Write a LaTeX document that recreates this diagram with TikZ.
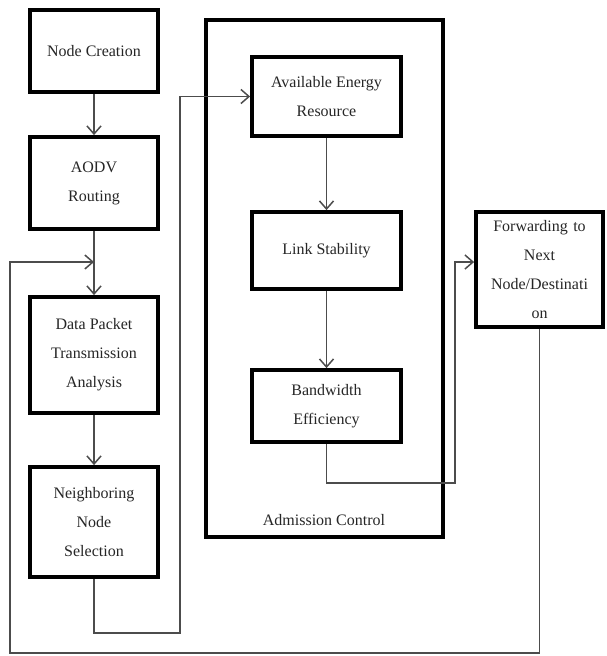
\documentclass[tikz,border=0pt]{standalone}
\usepackage{fontspec}
\setmainfont{Liberation Serif}
\usetikzlibrary{arrows.meta}
\begin{document}
\begin{tikzpicture}[x=1pt,y=1pt,
  box/.style={draw=black,line width=3.8pt,fill=white,align=center,inner sep=2pt,
    text=black!85,font=\fontsize{16}{29}\selectfont},
  conn/.style={draw=black!70,line width=1.8pt},
  arr/.style={conn,-{Straight Barb[length=8pt,width=14pt,line width=1.5pt]}},
  frame/.style={draw=black,line width=3.4pt},
  lbl/.style={text=black!85,font=\fontsize{16}{29}\selectfont}]
\useasboundingbox (0,0) rectangle (606,-656);
\fill[white] (0,0) rectangle (606,-656);
% admission control frame
\draw[frame] (206,-20) rectangle (443,-537);
\node[lbl] (adm) at (324,-520) {Admission Control};
% left column
\node[box,minimum width=128pt,minimum height=82pt] (nc) at (94,-51) {Node Creation};
\node[box,minimum width=128pt,minimum height=92pt] (aodv) at (94,-183) {AODV\\Routing};
\node[box,minimum width=128pt,minimum height=116pt] (data) at (94,-355) {Data Packet\\Transmission\\Analysis};
\node[box,minimum width=128pt,minimum height=110pt] (neigh) at (94,-522) {Neighboring\\Node\\Selection};
% middle column
\node[box,minimum width=149pt,minimum height=79pt] (avail) at (326.5,-96.5) {Available Energy\\Resource};
\node[box,minimum width=149pt,minimum height=77pt] (link) at (326.5,-250.5) {Link Stability};
\node[box,minimum width=149pt,minimum height=72pt] (band) at (326.5,-406) {Bandwidth\\Efficiency};
% right
\node[box,minimum width=127pt,minimum height=115pt,text width=120pt] (fwd) at (539.5,-269.5) {Forwarding to\\Next\\Node/Destinati\\on};
% coordinates for routing
\coordinate (c1) at (180,-633);
\coordinate (c2) at (455,-483);
\coordinate (c3) at (455,-262);
\coordinate (c4) at (10,-653);
\coordinate (c5) at (94,-262);
% connectors
\draw[arr] (nc) -- (aodv);
\draw[arr] (aodv) -- (data);
\draw[arr] (data) -- (neigh);
\draw[arr] (avail) -- (link);
\draw[arr] (link) -- (band);
\draw[arr] (neigh.south) |- (c1) |- (avail.west);
\draw[arr] (band.south) |- (c2) -- (c3) -- (fwd.west |- c3);
\draw[arr] (fwd.south) |- (c4) |- (c5);
\end{tikzpicture}
\end{document}
